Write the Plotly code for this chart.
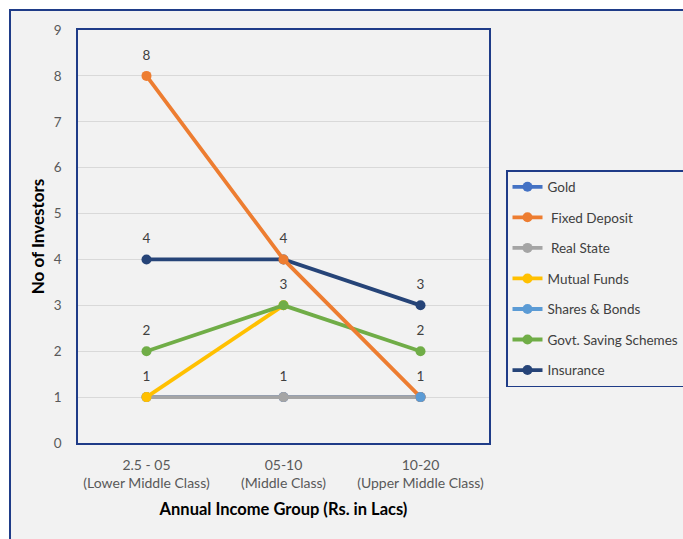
import plotly.graph_objects as go

categories = ["2.5 - 05<br>(Lower Middle Class)", "05-10<br>(Middle Class)", "10-20<br>(Upper Middle Class)"]
series_names = ["Gold", "Fixed Deposit", "Real State", "Mutual Funds", "Shares & Bonds", "Govt. Saving Schemes", "Insurance"]
gold = [1, 1, 1]
fixed_deposit = [8, 4, 1]
real_state = [1, 1, 1]
mutual_funds = [1, 3, None]
shares_bonds = [None, None, 1]
govt_saving = [2, 3, 2]
insurance = [4, 4, 3]
y_ticks = [0, 1, 2, 3, 4, 5, 6, 7, 8, 9]

values = {
    "Gold": gold,
    "Fixed Deposit": fixed_deposit,
    "Real State": real_state,
    "Mutual Funds": mutual_funds,
    "Shares & Bonds": shares_bonds,
    "Govt. Saving Schemes": govt_saving,
    "Insurance": insurance,
}
colors = {
    "Gold": "#4472C4",
    "Fixed Deposit": "#ED7D31",
    "Real State": "#A5A5A5",
    "Mutual Funds": "#FFC000",
    "Shares & Bonds": "#5B9BD5",
    "Govt. Saving Schemes": "#70AD47",
    "Insurance": "#264478",
}
legend_names = {
    "Fixed Deposit": " Fixed Deposit",
    "Real State": " Real State",
}
draw_order = ["Gold", "Real State", "Mutual Funds", "Govt. Saving Schemes", "Insurance", "Fixed Deposit", "Shares & Bonds"]
label_series = ["Fixed Deposit", "Insurance", "Govt. Saving Schemes", "Real State", "Mutual Funds"]

FONT = "Lato"
NAVY = "#1F3C88"

fig = go.Figure()
for name in draw_order:
    fig.add_trace(go.Scatter(
        x=categories, y=values[name], name=legend_names.get(name, name),
        mode="lines+markers",
        line=dict(color=colors[name], width=3.8),
        marker=dict(color=colors[name], size=10),
        legendrank=series_names.index(name) + 1,
        legendgroup=name,
        hoverinfo="skip",
    ))

# data labels (one per position)
seen = set()
lx, ly, lt = [], [], []
for name in label_series:
    for c, v in zip(categories, values[name]):
        if v is None or (c, v) in seen:
            continue
        seen.add((c, v))
        lx.append(c); ly.append(v); lt.append(str(v))
fig.add_trace(go.Scatter(
    x=lx, y=ly, text=lt, mode="markers+text", textposition="top center",
    marker=dict(size=19, opacity=0),
    textfont=dict(family=FONT, size=13.5, color="#404040"),
    showlegend=False, hoverinfo="skip",
))

# outer frame
fig.add_shape(type="rect", xref="paper", yref="paper",
              x0=(10 - 78) / 411, x1=1.6, y0=-0.4, y1=(443 - 10) / 413,
              line=dict(color=NAVY, width=2), fillcolor="#F2F2F2", layer="below")

fig.update_layout(
    width=683, height=539,
    margin=dict(l=78, r=194, t=30, b=96, autoexpand=False),
    paper_bgcolor="white", plot_bgcolor="#F2F2F2",
    font=dict(family=FONT, size=13, color="#595959"),
    showlegend=True,
    legend=dict(
        x=(506 - 78) / 411, y=(443 - 170) / 413, xanchor="left", yanchor="top",
        bgcolor="#F2F2F2", bordercolor=NAVY, borderwidth=1.5,
        font=dict(family=FONT, size=13.5, color="#404040"),
        tracegroupgap=10, itemwidth=30,
    ),
    xaxis=dict(
        range=[-0.5, 2.5], showgrid=False, showline=True, mirror=True,
        linecolor=NAVY, linewidth=1.5, ticks="", ticklabelstandoff=8,
        tickfont=dict(family=FONT, size=14, color="#595959"),
        title=dict(text="<b>Annual Income Group (Rs. in Lacs)</b>", standoff=14,
                   font=dict(family=FONT, size=16.5, color="#000000")),
    ),
    yaxis=dict(
        range=[0, 9], tickvals=y_ticks, showgrid=True, gridcolor="#D9D9D9", gridwidth=1,
        zeroline=False, showline=True, mirror=True, linecolor=NAVY, linewidth=1.5,
        ticks="", ticklabelstandoff=12,
        tickfont=dict(family=FONT, size=13.5, color="#595959"),
        title=dict(text="<b>No of Investors</b>", standoff=5,
                   font=dict(family=FONT, size=17, color="#000000")),
    ),
)

fig.write_html("out.html")
